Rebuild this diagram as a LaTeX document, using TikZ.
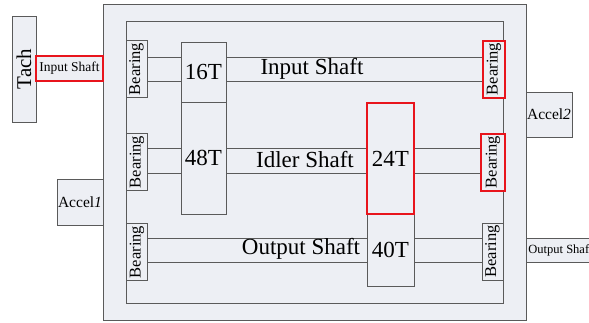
\documentclass[tikz,border=0pt]{standalone}
\usepackage{fontspec}
\setmainfont{Liberation Serif}
\definecolor{casefill}{HTML}{EDEFF4}
\definecolor{edgegray}{HTML}{5A5A5A}
\definecolor{markred}{HTML}{E8141C}
\usetikzlibrary{positioning}

\begin{document}
\begin{tikzpicture}[x=1pt,y=-1pt,
  box/.style={draw=edgegray,fill=casefill,line width=0.8pt,inner sep=0pt},
  hot/.style={draw=markred,line width=2pt},
  shaft/.style={draw=edgegray,line width=0.8pt},
  big/.style={font=\fontsize{23}{25}\selectfont},
  brg/.style={box,minimum width=21pt,minimum height=57pt}]
  \useasboundingbox (0,0) rectangle (589,322);
  \clip (0,0) rectangle (589,322);
  \fill[white] (0,0) rectangle (589,322);

  % gearbox case and frame
  \node[box,minimum width=423pt,minimum height=316pt] (case) at (314.5,162) {};
  \node[draw=edgegray,line width=0.8pt,inner sep=0pt,minimum width=377pt,minimum height=282pt] (frame) at (314.5,162) {};

  % sensors outside the case
  \node[box,minimum width=24pt,minimum height=106pt] (tach) at (24,69) {\rotatebox{90}{\fontsize{21}{22}\selectfont Tach}};
  \node[box,hot,minimum width=67pt,minimum height=25pt,font=\fontsize{13.5}{14}\selectfont] (insig) at (69.5,68.5) {Input Shaft};
  \node[box,minimum width=46pt,minimum height=46pt,font=\fontsize{15.5}{16}\selectfont] (acc1) at (80,202) {Accel\textit{1}};
  \node[box,minimum width=46pt,minimum height=45pt,font=\fontsize{15.5}{16}\selectfont] (acc2) at (549,114.5) {Accel\textit{2}};
  \node[box,anchor=west,minimum height=24pt,inner sep=2pt,font=\fontsize{12.5}{13}\selectfont] (outsig) at (526,250) {Output Shaft};

  % bearings
  \node[brg] (bl1) at (136.5,69) {\rotatebox{90}{\fontsize{16.5}{17}\selectfont Bearing}};
  \node[brg] (bl2) at (137,162) {\rotatebox{90}{\fontsize{16.5}{17}\selectfont Bearing}};
  \node[brg] (bl3) at (137,252) {\rotatebox{90}{\fontsize{16.5}{17}\selectfont Bearing}};
  \node[brg,hot,minimum width=22pt] (br1) at (494,69) {\rotatebox{90}{\fontsize{16.5}{17}\selectfont Bearing}};
  \node[brg,hot,minimum width=24pt] (br2) at (493,162) {\rotatebox{90}{\fontsize{16.5}{17}\selectfont Bearing}};
  \node[brg] (br3) at (492.5,251.5) {\rotatebox{90}{\fontsize{16.5}{17}\selectfont Bearing}};

  % gears
  \node[box,big,minimum width=45pt,minimum height=60pt] (g16) at (203.5,72) {16T};
  \node[box,big,minimum width=45pt,minimum height=112pt] (g48) at (203.5,158) {48T};
  \node[box,big,minimum width=47pt,minimum height=72pt] (g40) at (390.5,250) {40T};
  \node[box,hot,big,minimum width=47pt,minimum height=111pt] (g24) at (390.5,158.5) {24T};

  % shafts
  \foreach \y in {57,81} {
    \draw[shaft] (bl1.east |- 0,\y) -- (g16.west |- 0,\y);
    \draw[shaft] (g16.east |- 0,\y) -- (br1.west |- 0,\y);
  }
  \foreach \y in {148,173} {
    \draw[shaft] (bl2.east |- 0,\y) -- (g48.west |- 0,\y);
    \draw[shaft] (g48.east |- 0,\y) -- (g24.west |- 0,\y);
    \draw[shaft] (g24.east |- 0,\y) -- (br2.west |- 0,\y);
  }
  \foreach \y in {238,262} {
    \draw[shaft] (bl3.east |- 0,\y) -- (g40.west |- 0,\y);
    \draw[shaft] (g40.east |- 0,\y) -- (br3.west |- 0,\y);
  }
  \node[big] (inlab) at (312,69) {Input Shaft};
  \node[big] (idlab) at (305,160) {Idler Shaft};
  \node[big] (outlab) at (301,249) {Output Shaft};
\end{tikzpicture}
\end{document}
